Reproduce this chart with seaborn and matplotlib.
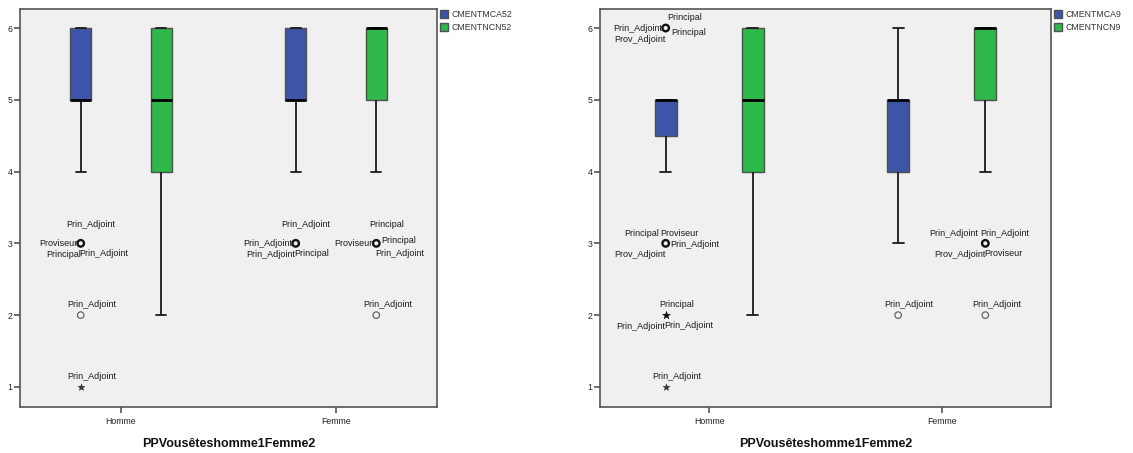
import numpy as np
import pandas as pd
import matplotlib
matplotlib.use("Agg")
import matplotlib.pyplot as plt
import seaborn as sns

sns.set_theme(style="white")
plt.rcParams['font.family'] = ['Liberation Sans', 'DejaVu Sans']

# notes possibles et modalites du sexe
scores = [1, 2, 3, 4, 5, 6]
genders = ['Homme', 'Femme']
xlabel = 'PPVousêteshomme1Femme2'

# effectifs par note (1..6) pour chaque variable et chaque sexe
vars_left = ['CMENTMCA52', 'CMENTNCN52']
mca52_homme = [1, 1, 4, 3, 14, 18]
mca52_femme = [0, 0, 4, 3, 13, 13]
ncn52_homme = [0, 2, 3, 8, 12, 16]
ncn52_femme = [0, 1, 4, 2, 9, 17]

vars_right = ['CMENTMCA9', 'CMENTNCN9']
mca9_homme = [1, 3, 4, 1, 22, 4]
mca9_femme = [0, 1, 2, 6, 20, 4]
ncn9_homme = [0, 2, 3, 5, 11, 14]
ncn9_femme = [0, 1, 4, 2, 9, 17]

# etiquettes des valeurs aberrantes (variable, sexe, note)
labels_left = {
    ('CMENTMCA52', 'Homme', 3): ['Prin_Adjoint', 'Proviseur', 'Principal', 'Prin_Adjoint'],
    ('CMENTMCA52', 'Homme', 2): ['Prin_Adjoint'],
    ('CMENTMCA52', 'Homme', 1): ['Prin_Adjoint'],
    ('CMENTMCA52', 'Femme', 3): ['Prin_Adjoint', 'Prin_Adjoint', 'Prin_Adjoint', 'Principal'],
    ('CMENTNCN52', 'Femme', 3): ['Principal', 'Proviseur', 'Principal', 'Prin_Adjoint'],
    ('CMENTNCN52', 'Femme', 2): ['Prin_Adjoint'],
}
labels_right = {
    ('CMENTMCA9', 'Homme', 6): ['Principal', 'Prin_Adjoint', 'Principal', 'Prov_Adjoint'],
    ('CMENTMCA9', 'Homme', 3): ['Principal', 'Proviseur', 'Prin_Adjoint', 'Prov_Adjoint'],
    ('CMENTMCA9', 'Homme', 2): ['Principal', 'Prin_Adjoint', 'Prin_Adjoint'],
    ('CMENTMCA9', 'Homme', 1): ['Prin_Adjoint'],
    ('CMENTMCA9', 'Femme', 2): ['Prin_Adjoint'],
    ('CMENTNCN9', 'Femme', 3): ['Prin_Adjoint', 'Prin_Adjoint', 'Prov_Adjoint', 'Proviseur'],
    ('CMENTNCN9', 'Femme', 2): ['Prin_Adjoint'],
}

# placement des etiquettes autour du point (style SPSS)
slots_left = {
    ('CMENTMCA52', 'Homme', 3): ['top_hi', 'left', 'bl', 'br'],
    ('CMENTMCA52', 'Homme', 2): ['top'],
    ('CMENTMCA52', 'Homme', 1): ['top'],
    ('CMENTMCA52', 'Femme', 3): ['top_hi', 'left', 'bl', 'br'],
    ('CMENTNCN52', 'Femme', 3): ['top_hi', 'left', 'right_hi', 'br'],
    ('CMENTNCN52', 'Femme', 2): ['top'],
}
slots_right = {
    ('CMENTMCA9', 'Homme', 6): ['top_r', 'left', 'right_lo', 'bl'],
    ('CMENTMCA9', 'Homme', 3): ['al', 'ar', 'right', 'bl'],
    ('CMENTMCA9', 'Homme', 2): ['top', 'bl', 'br'],
    ('CMENTMCA9', 'Homme', 1): ['top'],
    ('CMENTMCA9', 'Femme', 2): ['top'],
    ('CMENTNCN9', 'Femme', 3): ['al', 'ar', 'bl', 'br'],
    ('CMENTNCN9', 'Femme', 2): ['top'],
}
# (alignement, dx px, dy px vers le bas)
slot_style = {
    'top': ('center', 11, -10.5),
    'top_hi': ('center', 10.5, -19),
    'top_r': ('left', 2, -11),
    'left': ('right', -3.5, 0.5),
    'right': ('left', 5, 1.5),
    'right_hi': ('left', 5, -3),
    'right_lo': ('left', 6, 4),
    'bl': ('right', 0, 11),
    'br': ('left', -1.5, 10),
    'al': ('right', -7, -9.5),
    'ar': ('left', -5, -10),
}

BLUE = '#3C55A8'
GREEN = '#2EB84B'
BOX_W = 0.75
GAP = 0.745


def draw_panel(ax, counts, variables, labels, slots):
    parts = []
    for var in variables:
        for g in genders:
            parts.append(pd.DataFrame({'variable': var, 'gender': g,
                                       'score': np.repeat(scores, counts[var][g])}))
    df = pd.concat(parts, ignore_index=True)

    sns.boxplot(data=df, x='gender', y='score', hue='variable', order=genders,
                hue_order=variables, palette=[BLUE, GREEN], width=BOX_W, gap=GAP,
                saturation=1, showfliers=False, linecolor='#505050', linewidth=1,
                medianprops=dict(color='black', linewidth=2),
                whiskerprops=dict(color='#1a1a1a', linewidth=1.3),
                capprops=dict(color='#1a1a1a', linewidth=1.3), ax=ax)

    # valeurs aberrantes : cercle (>1.5 EI), etoile (>3 EI)
    for i, g in enumerate(genders):
        for j, var in enumerate(variables):
            v = df.loc[(df.gender == g) & (df.variable == var), 'score']
            q1, q3 = np.percentile(v, [25, 75])
            iqr = q3 - q1
            xpos = i + (j - 0.5) * BOX_W / 2
            for val, n in v.value_counts().sort_index().items():
                dist = max(q1 - val, val - q3) / iqr
                if dist <= 1.5:
                    continue
                if dist > 3:
                    ax.scatter([xpos], [val], marker='*', s=34 if n > 1 else 26,
                               color='#111' if n > 1 else '#333', linewidths=0.4,
                               zorder=5, clip_on=False)
                else:
                    ax.scatter([xpos], [val], marker='o', s=22, facecolors='none',
                               edgecolors='#111' if n > 1 else '#666',
                               linewidths=1.7 if n > 1 else 0.9, zorder=5, clip_on=False)
                for name, slot in zip(labels[(var, g, val)], slots[(var, g, val)]):
                    ha, dx, dy = slot_style[slot]
                    ax.annotate(name, (xpos, val), xytext=(dx, -dy),
                                textcoords='offset pixels', ha=ha, va='center',
                                fontsize=6.5, color='#1a1a1a', annotation_clip=False)

    ax.set_xlim(-0.47, 1.47)
    ax.set_ylim(0.72, 6.265)
    ax.set_yticks(scores)
    ax.set_facecolor('#F0F0F0')
    ax.set_ylabel('')
    ax.set_xlabel(xlabel, fontsize=9, fontweight='bold', labelpad=9, color='#111')
    for sp in ax.spines.values():
        sp.set_color('#555555')
        sp.set_linewidth(1.2)
    ax.tick_params(axis='x', bottom=True, direction='out', length=4, width=1.2,
                   color='#555555', labelsize=6.3, pad=3, labelcolor='#222')
    ax.tick_params(axis='y', left=True, direction='out', length=4.5, width=1.2,
                   color='#555555', labelsize=6.3, pad=1, labelcolor='#222')

    old = ax.get_legend()
    handles = old.legend_handles
    names = [t.get_text() for t in old.get_texts()]
    old.remove()
    ax.legend(handles, names, loc='upper left', bbox_to_anchor=(1.004, 1.0),
              frameon=False, fontsize=6.3, handlelength=1.0, handleheight=1.1,
              handletextpad=0.35, borderaxespad=0, borderpad=0.1, labelspacing=0.4,
              labelcolor='#333')


counts_left = {'CMENTMCA52': {'Homme': mca52_homme, 'Femme': mca52_femme},
               'CMENTNCN52': {'Homme': ncn52_homme, 'Femme': ncn52_femme}}
counts_right = {'CMENTMCA9': {'Homme': mca9_homme, 'Femme': mca9_femme},
                'CMENTNCN9': {'Homme': ncn9_homme, 'Femme': ncn9_femme}}

fig = plt.figure(figsize=(11.33, 4.53), dpi=100)
ax1 = fig.add_axes([20 / 1133, 46 / 453, 417 / 1133, 398 / 453])
ax2 = fig.add_axes([600 / 1133, 46 / 453, 451 / 1133, 398 / 453])

draw_panel(ax1, counts_left, vars_left, labels_left, slots_left)
draw_panel(ax2, counts_right, vars_right, labels_right, slots_right)

fig.savefig('out.png', dpi=100)
